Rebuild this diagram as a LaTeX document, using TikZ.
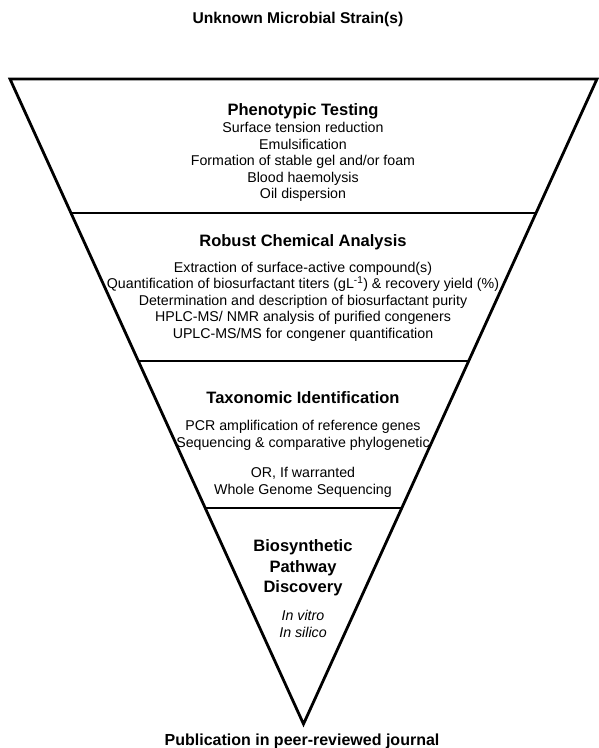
\documentclass[tikz,border=0pt]{standalone}
\usepackage{fontspec}
\setmainfont{Liberation Sans}
\usetikzlibrary{positioning,calc}
\tikzset{
  stage/.style={font=\bfseries\fontsize{16.5}{20.5}\selectfont,align=center,inner sep=0pt},
  items/.style={font=\fontsize{14.2}{16.5}\selectfont,align=center,inner sep=0pt},
  rim/.style={line width=2.8pt}
}
\begin{document}
\begin{tikzpicture}[x=1pt,y=-1pt]
\useasboundingbox (0,0) rectangle (598,748);
% funnel
\coordinate (TL) at (10,79);
\coordinate (TR) at (597,79);
\coordinate (A) at (303.5,724);
\draw[rim,line join=miter] (TL)--(TR)--(A)--cycle;
\foreach \t/\n in {0.2078/a,0.4372/b,0.6651/c}{
  \draw[rim] ($(TL)!\t!(A)$) coordinate (L\n) -- ($(TR)!\t!(A)$) coordinate (R\n);
}
% titles
\node[stage,font=\bfseries\fontsize{15.6}{19}\selectfont] (strain) at (298,19) {Unknown Microbial Strain(s)};
\node[stage,font=\bfseries\fontsize{16}{20}\selectfont] (pub) at (302,741) {Publication in peer-reviewed journal};
% stages
\node[stage] (pheno) at (303,111) {Phenotypic Testing};
\node[items] (phenoL) at (303,162) {Surface tension reduction\\Emulsification\\
  Formation of stable gel and/or foam\\Blood haemolysis\\Oil dispersion};
\node[stage] (chem) at (303,242) {Robust Chemical Analysis};
\node[items] (chemL) at (303,301.5) {Extraction of surface-active compound(s)\\
  Quantification of biosurfactant titers (gL\textsuperscript{-1}) \& recovery yield (\%)\\
  Determination and description of biosurfactant purity\\
  HPLC-MS/ NMR analysis of purified congeners\\
  UPLC-MS/MS for congener quantification};
\node[stage] (taxo) at (303,398) {Taxonomic Identification};
\node[items] (taxoL) at (303,459) {PCR amplification of reference genes\\
  Sequencing \& comparative phylogenetic\\[14pt]OR, If warranted\\Whole Genome Sequencing};
\node[stage] (bio) at (303,568) {Biosynthetic\\Pathway\\Discovery};
\node[items,font=\itshape\fontsize{14.2}{16.5}\selectfont] (bioL) at (303,624) {In vitro\\In silico};
\end{tikzpicture}
\end{document}
